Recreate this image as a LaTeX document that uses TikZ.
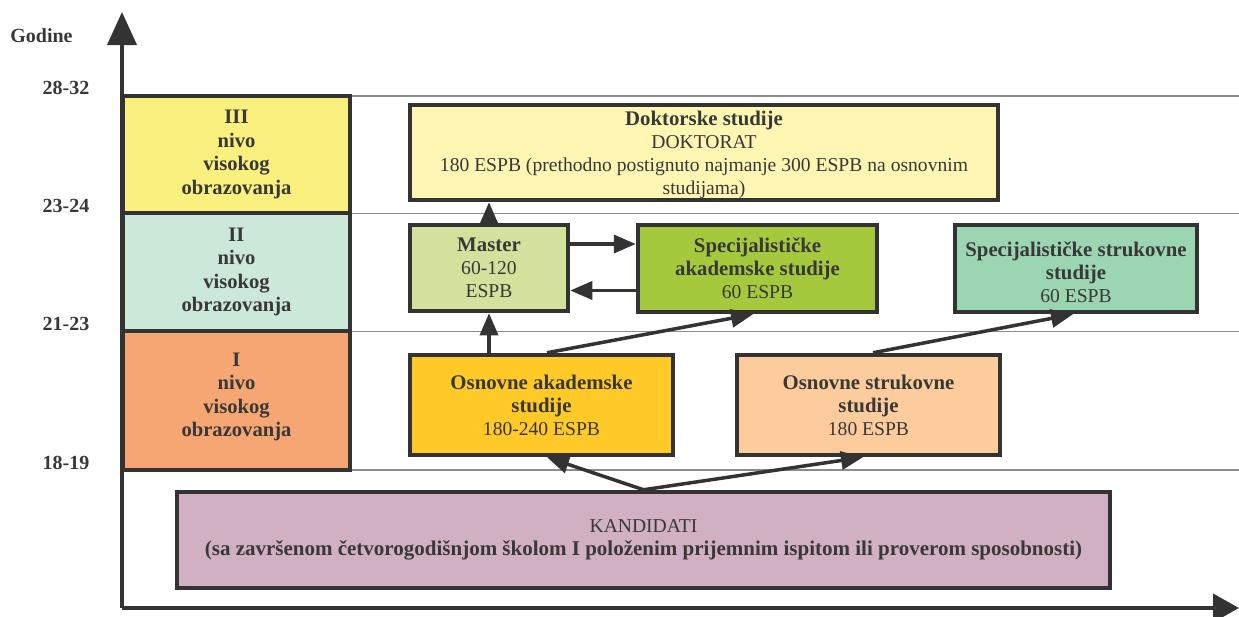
\documentclass[tikz,border=0pt]{standalone}
\usepackage{fontspec}
\setmainfont{Liberation Serif}
\usetikzlibrary{arrows.meta}

\definecolor{edge}{HTML}{333333}
\definecolor{ink}{HTML}{383838}
\definecolor{rule}{HTML}{8C8C8C}
\definecolor{lvlthree}{HTML}{FAF07D}
\definecolor{lvltwo}{HTML}{CCE8D9}
\definecolor{lvlone}{HTML}{F6A673}
\definecolor{doktor}{HTML}{FEF6B2}
\definecolor{master}{HTML}{D2E29C}
\definecolor{specak}{HTML}{A5C93D}
\definecolor{specst}{HTML}{9CD5B2}
\definecolor{osnak}{HTML}{FFC927}
\definecolor{osnst}{HTML}{FDCC9C}
\definecolor{kandid}{HTML}{D0B0C2}

% bold heading lines inside the boxes
\newcommand{\hd}[1]{{\fontsize{20.8}{23}\selectfont\bfseries #1}}

\begin{document}
\begin{tikzpicture}[x=1pt,y=-1pt,
  every node/.style={text=ink, font=\fontsize{19.6}{23}\selectfont},
  levelbox/.style={draw=edge, line width=4.5pt, align=center, inner sep=0pt,
    minimum width=227pt, font=\fontsize{20.6}{23.5}\selectfont\bfseries},
  stagebox/.style={draw=edge, line width=4.5pt, align=center, inner sep=0pt},
  agelabel/.style={font=\fontsize{20}{23}\selectfont\bfseries},
  conn/.style={draw=edge, line width=3.5pt, -{Triangle[length=22pt,width=18pt]}},
  axisline/.style={draw=edge, line width=4pt},
  gridline/.style={draw=rule, line width=1.2pt}]

\useasboundingbox (0,0) rectangle (1239,616);

% horizontal separators between the age bands
\draw[gridline] (350,96) -- (1239,96);
\draw[gridline] (350,213.5) -- (1239,213.5);
\draw[gridline] (350,331.5) -- (1239,331.5);
\draw[gridline] (350,470) -- (1239,470);

% axes
\coordinate (origin) at (122,608);
\coordinate (ytip) at (122,12);
\coordinate (xtip) at (1239,608);
\draw[axisline, -{Triangle[length=33pt,width=29pt]}] (origin) -- (ytip);
\draw[axisline, -{Triangle[length=26pt,width=28pt]}] (origin) -- (xtip);

% age labels
\node[agelabel] (god) at (41.5,36) {Godine};
\node[agelabel] (a1) at (66,88) {28-32};
\node[agelabel] (a2) at (66,206) {23-24};
\node[agelabel] (a3) at (66,324) {21-23};
\node[agelabel] (a4) at (66,463) {18-19};

% levels of higher education
\node[levelbox, fill=lvlthree, minimum height=117pt] (l3) at (236.5,154.5)
  {III\\nivo\\visokog\\obrazovanja};
\node[levelbox, fill=lvltwo, minimum height=118pt] (l2) at (236.5,272)
  {II\\nivo\\visokog\\obrazovanja};
\node[levelbox, fill=lvlone, minimum height=139pt] (l1) at (236.5,400.5)
  {I\\nivo\\visokog\\obrazovanja\rule[-12pt]{0pt}{1pt}};

% study programmes
\node[stagebox, fill=doktor, minimum width=588pt, minimum height=95pt] (dok) at (704,152.5)
  {\rule{0pt}{20pt}\hd{Doktorske studije}\\DOKTORAT\\180 ESPB (prethodno postignuto najmanje 300 ESPB na osnovnim\\studijama)};
\node[stagebox, fill=master, minimum width=158pt, minimum height=86pt] (mas) at (489,268)
  {\hd{Master}\\60-120\\ESPB};
\node[stagebox, fill=specak, minimum width=239pt, minimum height=87pt] (spa) at (757.5,268.5)
  {\hd{Specijalističke}\\\hd{akademske studije}\\60 ESPB};
\node[stagebox, fill=specst, minimum width=242pt, minimum height=87pt] (sps) at (1076,268.5)
  {\rule{0pt}{22pt}\hd{Specijalističke strukovne}\\\hd{studije}\\60 ESPB};
\node[stagebox, fill=osnak, minimum width=263pt, minimum height=100pt] (osa) at (541.5,405)
  {\hd{Osnovne akademske}\\\hd{studije}\\180-240 ESPB};
\node[stagebox, fill=osnst, minimum width=263pt, minimum height=100pt] (oss) at (868.5,405)
  {\hd{Osnovne strukovne}\\\hd{studije}\\180 ESPB};
\node[stagebox, fill=kandid, minimum width=933pt, minimum height=96pt] (kan) at (643.5,540)
  {KANDIDATI\\{\fontsize{21}{23}\selectfont\bfseries (sa završenom četvorogodišnjom školom I položenim prijemnim ispitom ili proverom sposobnosti)}};

% paths between programmes
\draw[conn] (mas.north) -- (mas.north |- dok.south);
\draw[conn] ([yshift=24pt]mas.east) -- ([yshift=24pt]mas.east -| spa.west);
\draw[conn] ([yshift=-22pt]spa.west) -- ([yshift=-22pt]spa.west -| mas.east);
\draw[conn] (osa.north -| mas.south) -- (mas.south);
\draw[conn] ([xshift=5.5pt]osa.north) -- ([xshift=-4.5pt]spa.south);
\draw[conn] ([xshift=4.5pt]oss.north) -- ([xshift=-3pt]sps.south);
\draw[conn] (kan.north) -- ([xshift=5.5pt]osa.south);
\draw[conn] (kan.north) -- ([xshift=-5.5pt]oss.south);
\end{tikzpicture}
\end{document}
